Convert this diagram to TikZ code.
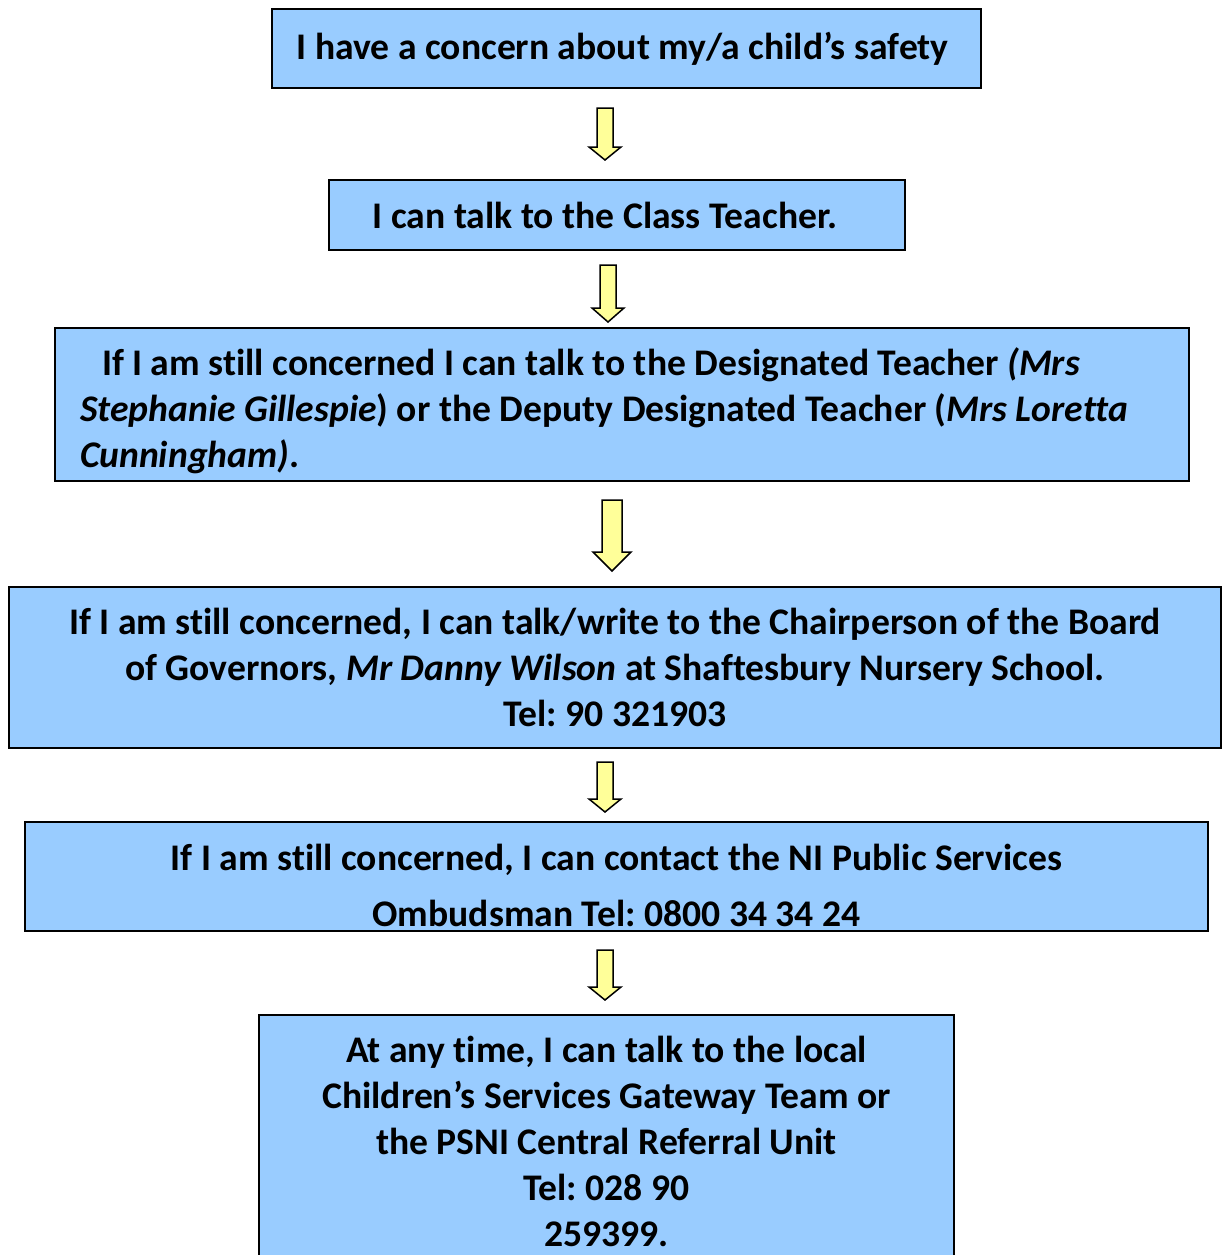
\documentclass[tikz,border=0pt]{standalone}
\usepackage{fontspec}
\setmainfont{Carlito}[Ligatures=NoCommon]
\frenchspacing
\definecolor{boxblue}{HTML}{99CCFF}
\definecolor{arrowyellow}{HTML}{FFFF99}
\tikzset{
  stepbox/.style={draw=black, line width=1.5pt, fill=boxblue, inner sep=0pt,
    align=center, font=\fontsize{37.6}{46}\selectfont\bfseries},
  steptext/.style={inner sep=0pt, align=center, font=\fontsize{37.6}{46}\selectfont\bfseries},
  fatarrow/.style={draw=black, line width=1.5pt, fill=arrowyellow, line join=miter}
}
% block arrow: x, top y, bottom y, shaft half width, head half width, head length
\newcommand{\blockarrow}[6]{%
  \draw[fatarrow] (#1-#4,#2) -- (#1+#4,#2) -- (#1+#4,#3-#6) -- (#1+#5,#3-#6)
    -- (#1,#3) -- (#1-#5,#3-#6) -- (#1-#4,#3-#6) -- cycle;}
\begin{document}
\begin{tikzpicture}[x=1pt, y=-1pt]
\useasboundingbox (0,0) rectangle (1222,1255);
\node[stepbox, minimum width=709, minimum height=79] (concern) at (626.5,48.5)
  {\hspace*{-8pt}I have a concern about my/a child’s safety};
\node[stepbox, minimum width=576, minimum height=70] (classteacher) at (617,215)
  {I can talk to the Class Teacher.\hspace*{24pt}};
\node[stepbox, minimum width=1134, minimum height=153] (designated) at (622,404.5) {};
\node[steptext, align=flush left, text width=1090] (designatedtext) at (625,411)
  {\hspace*{22pt}If I am still concerned I can talk to the Designated Teacher \textit{(Mrs}\\
   \textit{Stephanie Gillespie}) or the Deputy Designated Teacher (\textit{Mrs Loretta}\\
   \textit{Cunningham)}.};
\node[stepbox, minimum width=1212, minimum height=161] (governors) at (615,667.5)
  {If I am still concerned, I can talk/write to the Chairperson of the Board\\
   of Governors, \textit{Mr Danny Wilson} at Shaftesbury Nursery School.\\
   Tel: 90 321903};
\node[stepbox, minimum width=1183, minimum height=109] (ombudsman) at (616.5,876.5) {};
\node[steptext] (ombudsmantext) at (616.5,885.5)
  {If I am still concerned, I can contact the NI Public Services\\[10pt]
   Ombudsman Tel: 0800 34 34 24};
\node[stepbox, minimum width=695, minimum height=252] (gateway) at (606.5,1141)
  {At any time, I can talk to the local\\
   Children’s Services Gateway Team or\\
   the PSNI Central Referral Unit\\
   Tel: 028 90\\
   259399.};
% arrows between the steps
\blockarrow{605}{108}{160}{8}{16}{13}
\blockarrow{608}{265}{322}{8}{16}{14}
\blockarrow{612}{500}{571}{10}{19}{19}
\blockarrow{605}{762}{812}{8}{16}{13}
\blockarrow{605}{950}{1000}{8}{16}{13}
\end{tikzpicture}
\end{document}
